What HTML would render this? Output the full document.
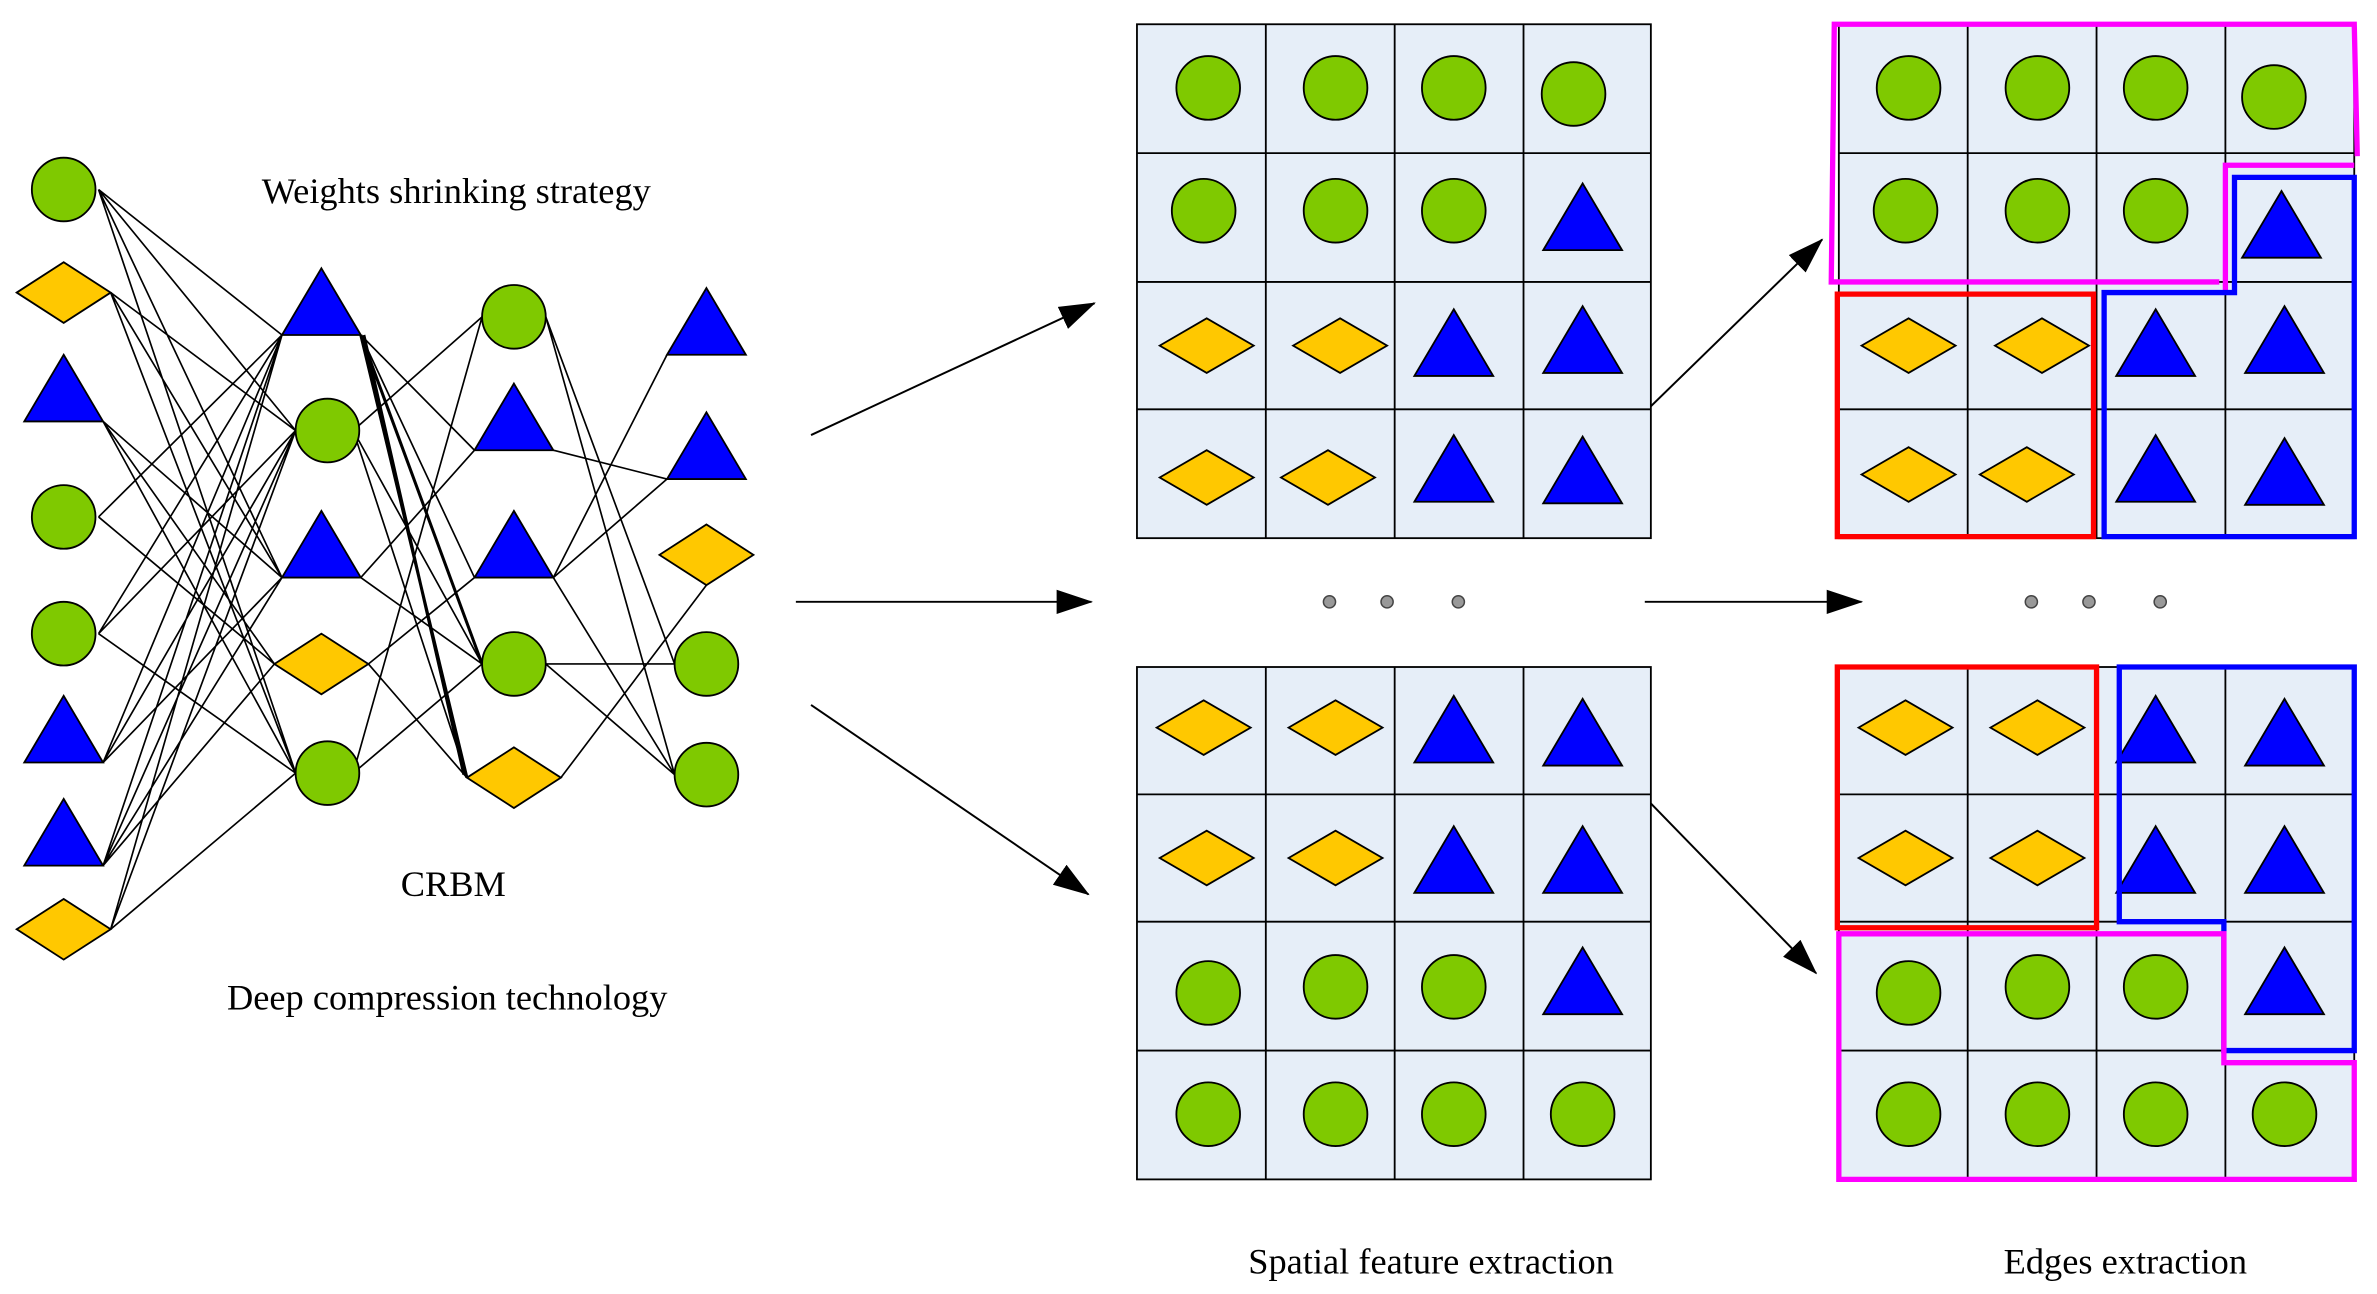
<!DOCTYPE html>
<html><head><meta charset="utf-8"><style>html,body{margin:0;padding:0;background:#fff}svg{display:block}</style></head>
<body>
<svg width="2377" height="1294" viewBox="0 0 1568 853.6" xmlns="http://www.w3.org/2000/svg">
<defs>
<g id="c"><circle r="21" fill="#7fc900" stroke="#000" stroke-width="1.2"/></g>
<g id="t"><polygon points="0,-22 26,22 -26,22" fill="#0000ff" stroke="#000" stroke-width="1.2"/></g>
<g id="d"><polygon points="-31,0 0,-18 31,0 0,18" fill="#ffc800" stroke="#000" stroke-width="1.2"/></g>
<g id="dn"><polygon points="-31,0 0,-20 31,0 0,20" fill="#ffc800" stroke="#000" stroke-width="1.2"/></g>
<marker id="ah2" viewBox="0 0 24 16" markerWidth="24" markerHeight="16" refX="23" refY="8" orient="auto" markerUnits="userSpaceOnUse"><polygon points="0,0 24,8 0,16" fill="#000"/></marker>
</defs>
<g stroke="#000" stroke-width="1.1" fill="none">
<path d="M65,125L186,221 M65,125L195,284 M65,125L186,381 M65,125L195,510
M73,193L195,284 M73,193L186,381 M73,193L195,510
M68,278L186,381 M68,278L181,438 M68,278L195,510
M65,341L186,221 M65,341L181,438
M65,418L186,221 M65,418L195,284 M65,418L195,510
M68,503L186,221 M68,503L195,284 M68,503L186,381
M68,571L186,221 M68,571L195,284 M68,571L186,381 M68,571L181,438
M73,613L186,221 M73,613L195,284 M73,613L195,510"/>
<path d="M238,221L313,297 M238,221L313,381 M233,284L318,209 M233,284L318,438 M233,284L308,513
M238,381L313,297 M238,381L318,438 M243,438L313,381 M243,438L308,513 M233,510L318,209 M233,510L318,438"/>
<path d="M238,221L318,438 M238,221L308,513 M240,221L306,511" stroke-width="2"/>
<path d="M360,209L445,438 M360,209L445,511 M365,297L440,316 M365,381L440,234 M365,381L440,316 M365,381L445,511
M360,438L445,438 M360,438L445,511 M370,513L466,386"/>
</g>
<use href="#c" x="42" y="125"/><use href="#dn" x="42" y="193"/><use href="#t" x="42" y="256"/><use href="#c" x="42" y="341"/>
<use href="#c" x="42" y="418"/><use href="#t" x="42" y="481"/><use href="#t" x="42" y="549"/><use href="#dn" x="42" y="613"/>
<use href="#t" x="212" y="199"/><use href="#c" x="216" y="284"/><use href="#t" x="212" y="359"/><use href="#dn" x="212" y="438"/><use href="#c" x="216" y="510"/>
<use href="#c" x="339" y="209"/><use href="#t" x="339" y="275"/><use href="#t" x="339" y="359"/><use href="#c" x="339" y="438"/><use href="#dn" x="339" y="513"/>
<use href="#t" x="466" y="212"/><use href="#t" x="466" y="294"/><use href="#dn" x="466" y="366"/><use href="#c" x="466" y="438"/><use href="#c" x="466" y="511"/>
<g font-family="Liberation Serif, serif" font-size="24" text-anchor="middle" fill="#000">
<text x="301" y="134">Weights shrinking strategy</text>
<text x="299" y="591">CRBM</text>
<text x="295" y="666">Deep compression technology</text>
<text x="944" y="840">Spatial feature extraction</text>
<text x="1402" y="840">Edges extraction</text>
</g>
<g stroke="#000" stroke-width="1.2" fill="#e6eef8">
<rect x="750" y="16" width="339" height="339"/><rect x="750" y="440" width="339" height="338"/>
<rect x="1213" y="16" width="340" height="339"/><rect x="1213" y="440" width="340" height="338"/>
</g>
<g stroke="#000" stroke-width="1.2">
<path d="M835,16V355M920,16V355M1005,16V355M750,101H1089M750,186H1089M750,270H1089"/>
<path d="M835,440V778M920,440V778M1005,440V778M750,524H1089M750,608H1089M750,693H1089"/>
<path d="M1298,16V355M1383,16V355M1468,16V355M1213,101H1553M1213,186H1553M1213,270H1553"/>
<path d="M1298,440V778M1383,440V778M1468,440V778M1213,524H1553M1213,608H1553M1213,693H1553"/>
</g>
<use href="#c" x="797" y="58"/><use href="#c" x="881" y="58"/><use href="#c" x="959" y="58"/><use href="#c" x="1038" y="62"/>
<use href="#c" x="794" y="139"/><use href="#c" x="881" y="139"/><use href="#c" x="959" y="139"/><use href="#t" x="1044" y="143"/>
<use href="#d" x="796" y="228"/><use href="#d" x="884" y="228"/><use href="#t" x="959" y="226"/><use href="#t" x="1044" y="224"/>
<use href="#d" x="796" y="315"/><use href="#d" x="876" y="315"/><use href="#t" x="959" y="309"/><use href="#t" x="1044" y="310"/>
<use href="#d" x="794" y="480"/><use href="#d" x="881" y="480"/><use href="#t" x="959" y="481"/><use href="#t" x="1044" y="483"/>
<use href="#d" x="796" y="566"/><use href="#d" x="881" y="566"/><use href="#t" x="959" y="567"/><use href="#t" x="1044" y="567"/>
<use href="#c" x="797" y="655"/><use href="#c" x="881" y="651"/><use href="#c" x="959" y="651"/><use href="#t" x="1044" y="647"/>
<use href="#c" x="797" y="735"/><use href="#c" x="881" y="735"/><use href="#c" x="959" y="735"/><use href="#c" x="1044" y="735"/>
<use href="#c" x="1259" y="58"/><use href="#c" x="1344" y="58"/><use href="#c" x="1422" y="58"/><use href="#c" x="1500" y="64"/>
<use href="#c" x="1257" y="139"/><use href="#c" x="1344" y="139"/><use href="#c" x="1422" y="139"/><use href="#t" x="1505" y="148"/>
<use href="#d" x="1259" y="228"/><use href="#d" x="1347" y="228"/><use href="#t" x="1422" y="226"/><use href="#t" x="1507" y="224"/>
<use href="#d" x="1259" y="313"/><use href="#d" x="1337" y="313"/><use href="#t" x="1422" y="309"/><use href="#t" x="1507" y="311"/>
<use href="#d" x="1257" y="480"/><use href="#d" x="1344" y="480"/><use href="#t" x="1422" y="481"/><use href="#t" x="1507" y="483"/>
<use href="#d" x="1257" y="566"/><use href="#d" x="1344" y="566"/><use href="#t" x="1422" y="567"/><use href="#t" x="1507" y="567"/>
<use href="#c" x="1259" y="655"/><use href="#c" x="1344" y="651"/><use href="#c" x="1422" y="651"/><use href="#t" x="1507" y="647"/>
<use href="#c" x="1259" y="735"/><use href="#c" x="1344" y="735"/><use href="#c" x="1422" y="735"/><use href="#c" x="1507" y="735"/>
<g fill="none" stroke-width="3.5">
<polyline points="1464,186 1208,186 1210,16 1553,16 1555,103" stroke="#ff00ff"/>
<polyline points="1553,109 1468,109 1468,192" stroke="#ff00ff"/>
<polygon points="1212,194 1381,194 1381,354 1212,354" stroke="#ff0000"/>
<polygon points="1388,354 1388,193 1474,193 1474,117 1553,117 1553,354" stroke="#0000ff"/>
<polygon points="1212,440 1383,440 1383,612 1212,612" stroke="#ff0000"/>
<polygon points="1398,440 1553,440 1553,693 1467,693 1467,608 1398,608" stroke="#0000ff"/>
<polygon points="1213,616 1467,616 1467,701 1553,701 1553,778 1213,778" stroke="#ff00ff"/>
</g>
<g stroke="#000" stroke-width="1.3" fill="none">
<line x1="535" y1="287" x2="722" y2="200" marker-end="url(#ah2)"/>
<line x1="525" y1="397" x2="720" y2="397" marker-end="url(#ah2)"/>
<line x1="535" y1="465" x2="718" y2="590" marker-end="url(#ah2)"/>
<line x1="1089" y1="268" x2="1202" y2="158" marker-end="url(#ah2)"/>
<line x1="1085" y1="397" x2="1228" y2="397" marker-end="url(#ah2)"/>
<line x1="1089" y1="530" x2="1198" y2="642" marker-end="url(#ah2)"/>
</g>
<g fill="#999" stroke="#444" stroke-width="1">
<circle cx="877" cy="397" r="4"/><circle cx="915" cy="397" r="4"/><circle cx="962" cy="397" r="4"/>
<circle cx="1340" cy="397" r="4"/><circle cx="1378" cy="397" r="4"/><circle cx="1425" cy="397" r="4"/>
</g>
</svg>
</body></html>
